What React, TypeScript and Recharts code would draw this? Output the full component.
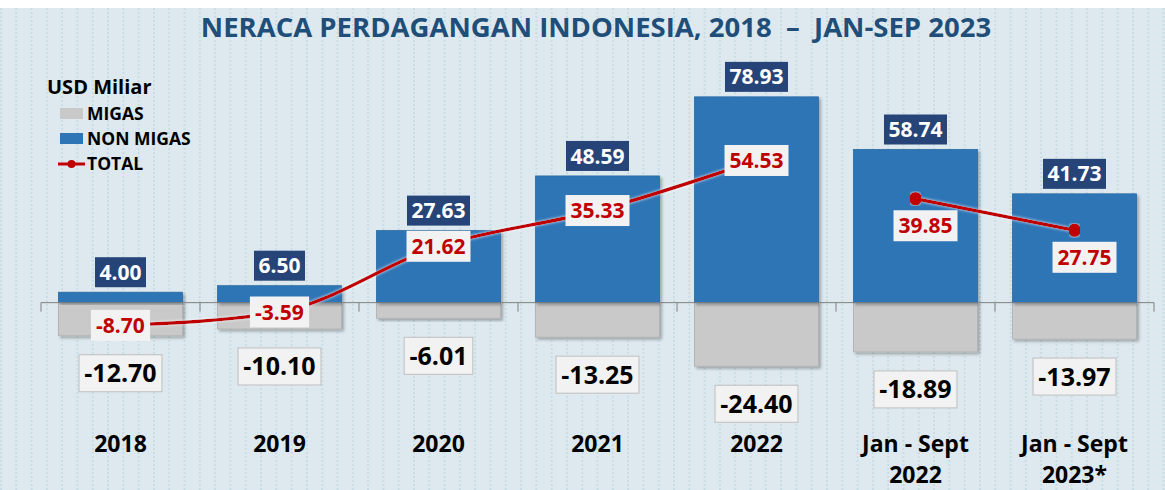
import React from 'react';
import { ComposedChart, Bar, Line, XAxis, YAxis, ReferenceLine, LabelList, Legend } from 'recharts';

const periods = ['2018', '2019', '2020', '2021', '2022', 'Jan - Sept|2022', 'Jan - Sept|2023*'];
const migas = [-12.7, -10.1, -6.01, -13.25, -24.4, -18.89, -13.97];
const nonMigas = [4.0, 6.5, 27.63, 48.59, 78.93, 58.74, 41.73];
const totalYear = [-8.7, -3.59, 21.62, 35.33, 54.53, null, null];
const totalYtd = [null, null, null, null, null, 39.85, 27.75];

const data = periods.map((p, i) => ({
  period: p,
  migas: migas[i],
  nonMigas: nonMigas[i],
  totalYear: totalYear[i],
  totalYtd: totalYtd[i],
}));

const FONT = '"Open Sans", sans-serif';
const RED = '#c00000';
const BLUE = '#2e75b6';
const NAVY = '#264478';

// rough width of a number string, per glyph
const textW = (s: string, digit: number) =>
  s.split('').reduce((w, c) => w + (c === '.' ? digit * 0.5 : c === '-' ? digit * 0.6 : digit), 0);

const BarShape = (props: any) => {
  const { x, y, width, height, fill, stroke } = props;
  const top = Math.min(y, y + height);
  const h = Math.abs(height);
  return <rect x={x} y={top} width={width} height={h} fill={fill} stroke={stroke} strokeWidth={0.8} filter="url(#barShadow)" />;
};

const NonMigasLabel = (props: any) => {
  const { x, y, width, height, value } = props;
  const top = Math.min(y, y + height);
  const cx = x + width / 2;
  const txt = Number(value).toFixed(2);
  const w = textW(txt, 12) + 9;
  const h = 30;
  const by = top - 5 - h;
  return (
    <g>
      <rect x={cx - w / 2} y={by} width={w} height={h} fill={NAVY} />
      <text x={cx} y={by + h / 2} dy="0.36em" textAnchor="middle" fill="#fff" fontSize={21} fontWeight={700} fontFamily={FONT}>{txt}</text>
    </g>
  );
};

const MigasLabel = (props: any) => {
  const { x, y, width, height, value } = props;
  const bottom = Math.max(y, y + height);
  const cx = x + width / 2;
  const txt = Number(value).toFixed(2);
  const w = textW(txt, 14.3) + 10;
  const h = 37;
  const by = bottom + 19;
  return (
    <g>
      <rect x={cx - w / 2} y={by} width={w} height={h} fill="#f2f2f2" stroke="#bfbfbf" strokeWidth={1} />
      <text x={cx} y={by + h / 2} dy="0.36em" textAnchor="middle" fill="#000" fontSize={25} fontWeight={700} fontFamily={FONT}>{txt}</text>
    </g>
  );
};

const makeTotalLabel = (ox: number, oy: number) => (props: any) => {
  const { x, y, value } = props;
  if (value === null || value === undefined) return null;
  const txt = Number(value).toFixed(2);
  const w = textW(txt, 12) + 10;
  const h = 31;
  const cx = x + ox;
  const cy = y + oy;
  return (
    <g>
      <rect x={cx - w / 2} y={cy - h / 2} width={w} height={h} fill="#f2f2f2" />
      <text x={cx} y={cy} dy="0.36em" textAnchor="middle" fill={RED} fontSize={21} fontWeight={700} fontFamily={FONT}>{txt}</text>
    </g>
  );
};

const PeriodTick = (props: any) => {
  const { x, y, payload } = props;
  const lines = String(payload.value).split('|');
  return (
    <text x={x} y={y} textAnchor="middle" fill="#000" fontSize={23} fontWeight={700} fontFamily={FONT}>
      {lines.map((l, i) => (
        <tspan key={i} x={x} dy={i === 0 ? 11 : 31}>{l}</tspan>
      ))}
    </text>
  );
};

const ZeroLine = (props: any) => {
  const { x1, x2, y1 } = props;
  const n = periods.length;
  const step = (x2 - x1) / n;
  return (
    <g stroke="#7f7f7f" strokeWidth={1}>
      <line x1={x1} x2={x2} y1={y1} y2={y1} />
      {Array.from({ length: n + 1 }).map((_, i) => (
        <line key={i} x1={x1 + i * step} x2={x1 + i * step} y1={y1} y2={y1 + 9} />
      ))}
    </g>
  );
};

const itemStyle = { display: 'flex', alignItems: 'center', fontSize: 17.5, lineHeight: '25px' } as const;

const LegendBox = () => (
  <div style={{ fontFamily: FONT, fontWeight: 700, color: '#000' }}>
    <div style={{ fontSize: 20, lineHeight: '22px', marginBottom: 3 }}>USD Miliar</div>
    <div style={{ ...itemStyle, marginLeft: 13 }}>
      <span style={{ width: 23, height: 11, background: '#c9c9c9', marginRight: 4, display: 'inline-block' }} />MIGAS
    </div>
    <div style={{ ...itemStyle, marginLeft: 13 }}>
      <span style={{ width: 23, height: 11, background: BLUE, marginRight: 4, display: 'inline-block' }} />NON MIGAS
    </div>
    <div style={{ ...itemStyle, marginLeft: 11 }}>
      <svg width={27} height={12} style={{ marginRight: 2 }}>
        <line x1={0} x2={27} y1={6} y2={6} stroke={RED} strokeWidth={3} />
        <circle cx={13.5} cy={6} r={4} fill={RED} />
      </svg>TOTAL
    </div>
  </div>
);

export default function App() {
  return (
    <div style={{ position: 'absolute', left: 0, top: 0, width: 1165, height: 490, background: '#fff' }}>
      <div
        style={{
          position: 'absolute',
          left: 0,
          top: 8,
          width: 1165,
          height: 482,
          backgroundColor: '#dde9ef',
          backgroundImage:
            'linear-gradient(0deg, #dde9ef 50%, transparent 50%), linear-gradient(90deg, #c8dce5 2px, transparent 2px)',
          backgroundSize: '100% 4px, 15.3px 100%',
        }}
      >
        <ComposedChart
          width={1165}
          height={482}
          data={data}
          stackOffset="sign"
          barCategoryGap="11%"
          margin={{ top: 60, right: 11, bottom: 0, left: 41 }}
        >
          <defs>
            <filter id="barShadow" x="-10%" y="-10%" width="130%" height="130%">
              <feDropShadow dx={2} dy={2} stdDeviation={1.5} floodColor="#000" floodOpacity={0.3} />
            </filter>
            <filter id="lineGlow" x="-5%" y="-20%" width="110%" height="140%">
              <feDropShadow dx={0} dy={0} stdDeviation={1.5} floodColor="#ffffff" floodOpacity={0.8} />
            </filter>
          </defs>
          <XAxis dataKey="period" height={57} axisLine={false} tickLine={false} interval={0} tick={<PeriodTick />} />
          <YAxis hide domain={[-50, 90]} allowDataOverflow />
          <Legend
            layout="horizontal"
            align="center"
            verticalAlign="middle"
            content={<LegendBox />}
            wrapperStyle={{ left: 47, top: 68, width: 230, height: 110 }}
          />
          <Bar dataKey="migas" stackId="a" fill="#c9c9c9" stroke="#b0b0b0" shape={<BarShape />} isAnimationActive={false}>
            <LabelList dataKey="migas" content={<MigasLabel />} />
          </Bar>
          <Bar dataKey="nonMigas" stackId="a" fill={BLUE} stroke="#2a69a3" shape={<BarShape />} isAnimationActive={false}>
            <LabelList dataKey="nonMigas" content={<NonMigasLabel />} />
          </Bar>
          <ReferenceLine y={0} shape={<ZeroLine />} />
          <Line
            type="monotone"
            dataKey="totalYear"
            stroke={RED}
            strokeWidth={3.5}
            dot={false}
            activeDot={false}
            filter="url(#lineGlow)"
            isAnimationActive={false}
          >
            <LabelList dataKey="totalYear" content={makeTotalLabel(0, 0)} />
          </Line>
          <Line
            type="linear"
            dataKey="totalYtd"
            stroke={RED}
            strokeWidth={3.5}
            dot={{ r: 5, fill: RED, stroke: RED }}
            activeDot={false}
            filter="url(#lineGlow)"
            isAnimationActive={false}
          >
            <LabelList dataKey="totalYtd" content={makeTotalLabel(10, 27)} />
          </Line>
        </ComposedChart>
        <svg width={1165} height={50} style={{ position: 'absolute', left: 0, top: 0 }}>
          <text
            x={596}
            y={29}
            textAnchor="middle"
            fill="#1f4e79"
            fontSize={27.5}
            fontWeight={700}
            fontFamily={FONT}
            style={{ whiteSpace: 'pre' }}
          >
            {'NERACA PERDAGANGAN INDONESIA, 2018  –  JAN-SEP 2023'}
          </text>
        </svg>
      </div>
    </div>
  );
}
